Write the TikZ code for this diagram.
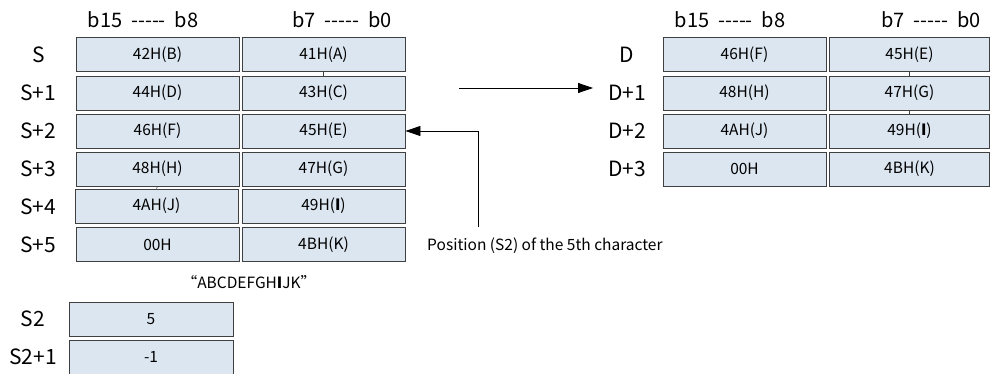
\documentclass[tikz,border=0pt]{standalone}
\usepackage{fontspec}
\setmainfont{Noto Sans CJK SC}
\usetikzlibrary{arrows.meta}
\definecolor{cellfill}{RGB}{220,230,241}
\definecolor{celldraw}{RGB}{64,64,64}
\newcommand{\fivedash}{{-}{-}{-}{-}{-}}
\tikzset{
  cell/.style={draw=celldraw, fill=cellfill, line width=0.9pt, minimum width=163pt, minimum height=34pt, inner sep=0pt, font=\fontsize{15.5}{17}\selectfont},
  lbl/.style={font=\fontsize{21}{23}\selectfont, inner sep=0pt},
  hdr/.style={font=\fontsize{20}{22}\selectfont, inner sep=0pt},
  note/.style={font=\fontsize{15.5}{17}\selectfont, inner sep=0pt},
  arr/.style={line width=0.8pt, -{Triangle[length=15pt,width=10pt]}},
  tick/.style={line width=0.6pt, draw=celldraw}
}
\begin{document}
\begin{tikzpicture}[x=1pt,y=-1pt]
\useasboundingbox (0,0) rectangle (990,374);
% headers
\node[hdr] (h1) at (143,20) {b15\ \ \fivedash\ \ b8};
\node[hdr] (h2) at (342,20) {b7\ \ \fivedash\ \ b0};
\node[hdr] (h3) at (730,20) {b15\ \ \fivedash\ \ b8};
\node[hdr] (h4) at (931,20) {b7\ \ \fivedash\ \ b0};
% left table
\node[lbl] (ls0) at (39,55) {S};
\node[lbl] (ls1) at (38,93) {S+1};
\node[lbl] (ls2) at (38,131) {S+2};
\node[lbl] (ls3) at (38,169) {S+3};
\node[lbl] (ls4) at (38,207) {S+4};
\node[lbl] (ls5) at (38,245) {S+5};
\node[cell] (a0) at (157.5,54.5) {42H(B)};
\node[cell] (b0) at (323.5,54.5) {41H(A)};
\node[cell] (a1) at (157.5,93) {44H(D)};
\node[cell] (b1) at (323.5,93) {43H(C)};
\node[cell] (a2) at (157.5,131) {46H(F)};
\node[cell] (b2) at (323.5,131) {45H(E)};
\node[cell] (a3) at (157.5,169) {48H(H)};
\node[cell] (b3) at (323.5,169) {47H(G)};
\node[cell] (a4) at (156.5,206) {4AH(J)};
\node[cell] (b4) at (323.5,206) {49H(\textbf{I})};
\node[cell] (a5) at (157.5,244.5) {00H};
\node[cell] (b5) at (323.5,244.5) {4BH(K)};
\draw[tick] (b0.south) -- (b1.north);
\draw[tick] (a3.south) -- (a4.north);
\node[note] (str) at (249,282) {“ABCDEFGH\textbf{I}JK”};
% S2
\node[lbl] (l20) at (33,319) {S2};
\node[lbl] (l21) at (33,357) {S2+1};
\node[cell, minimum width=164pt] (c0) at (151,319) {5};
\node[cell, minimum width=164pt] (c1) at (151,357) {-1};
% right table
\node[lbl] (ld0) at (627,55) {D};
\node[lbl] (ld1) at (627,93) {D+1};
\node[lbl] (ld2) at (627,131) {D+2};
\node[lbl] (ld3) at (627,169) {D+3};
\node[cell] (d0) at (744.5,54.5) {46H(F)};
\node[cell, minimum width=160pt] (e0) at (909.5,54.5) {45H(E)};
\node[cell] (d1) at (744.5,93) {48H(H)};
\node[cell, minimum width=160pt] (e1) at (909.5,93) {47H(G)};
\node[cell] (d2) at (744.5,131) {4AH(J)};
\node[cell, minimum width=160pt] (e2) at (909.5,131) {49H(\textbf{I})};
\node[cell] (d3) at (744.5,169) {00H};
\node[cell, minimum width=160pt] (e3) at (909.5,169) {4BH(K)};
\draw[tick] (e0.south) -- (e1.north);
\draw[tick] (e1.south) -- (e2.north);
% arrows
\coordinate (p1) at (459,88);
\coordinate (p2) at (593,88);
\draw[arr] (p1) -- (p2);
\coordinate (q1) at (478,227);
\draw[arr] (q1) |- (b2.east);
\node[note, anchor=west] (pos) at (427,246) {Position (S2) of the 5th character};
\end{tikzpicture}
\end{document}
